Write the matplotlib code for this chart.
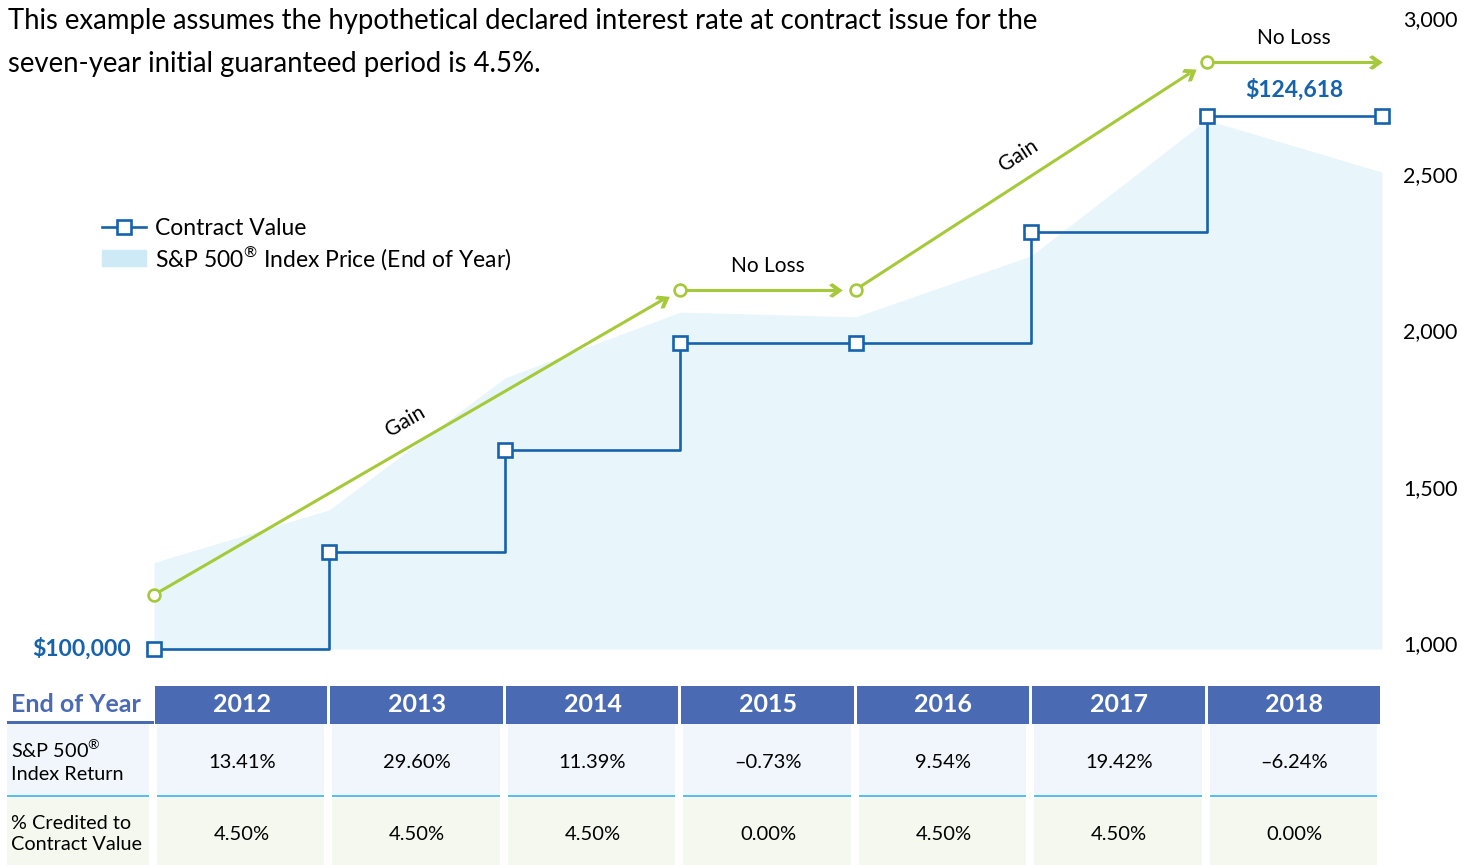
import numpy as np
import matplotlib
matplotlib.use('Agg')
import matplotlib.pyplot as plt
from matplotlib.lines import Line2D
from matplotlib.patches import Patch, Rectangle
from matplotlib.path import Path
from matplotlib.markers import MarkerStyle
from matplotlib.transforms import Affine2D

plt.rcParams['font.family'] = ['Lato', 'DejaVu Sans']
plt.rcParams['mathtext.fontset'] = 'custom'
plt.rcParams['mathtext.rm'] = 'Lato'

# data
years = ['2012', '2013', '2014', '2015', '2016', '2017', '2018']
sp500_price = [1257.60, 1426.19, 1848.36, 2058.90, 2043.94, 2238.83, 2673.61, 2506.85]
contract_value = [100000, 104500, 109203, 114117, 114117, 119252, 124618, 124618]
index_return = ['13.41%', '29.60%', '11.39%', '–0.73%', '9.54%', '19.42%', '–6.24%']
credited = ['4.50%', '4.50%', '4.50%', '0.00%', '4.50%', '4.50%', '0.00%']
# illustrative gain / no-loss arrow path (contract value scale)
path_x = [0, 3, 4, 6, 7]
path_y = [102500, 116600, 116600, 127100, 127100]
path_labels = ['Gain', 'No Loss', 'Gain', 'No Loss']

BLUE = '#1662ad'
GREEN = '#a6c93a'
AREA = '#e8f5fb'
HEAD = '#4a6bb4'

W, H = 1476, 865
fig = plt.figure(figsize=(W / 100, H / 100), dpi=100)

# main chart axes (S&P scale on the right)
ax = fig.add_axes([154 / W, (H - 649) / H, 1228 / W, 631 / H])
ax2 = ax.twinx()
ax.set_xlim(0, 7)
ax.set_ylim(981, 3000)
ax.patch.set_alpha(0)
for s in ax.spines.values():
    s.set_visible(False)
x = np.arange(len(sp500_price))
ax.fill_between(x, sp500_price, 981, color=AREA, lw=0, zorder=1)
ax.set_yticks([1000, 1500, 2000, 2500, 3000])
ax.set_yticklabels(['{:,}'.format(v) for v in [1000, 1500, 2000, 2500, 3000]], fontsize=15.5)
ax.yaxis.tick_right()
ax.tick_params(axis='y', length=0, pad=15, labelleft=False, labelright=True)
ax.set_xticks([])

# contract value axis
ax2.set_ylim(100000, 129146)
ax2.axis('off')
ax2.plot(x, contract_value, drawstyle='steps-post', color=BLUE, lw=1.9, zorder=3,
         marker='s', ms=10, mfc='white', mec=BLUE, mew=1.9, clip_on=False)
ax2.annotate('$100,000', xy=(0, contract_value[0]), xytext=(-23, 0), textcoords='offset pixels',
             ha='right', va='center', color=BLUE, fontsize=16.5, weight='bold')
ax2.annotate('$124,618', xy=(6.5, contract_value[-1]), xytext=(0, 26), textcoords='offset pixels',
             ha='center', va='center', color=BLUE, fontsize=16.5, weight='bold')

# green gain path with chevrons
chev = Path([(1, 0), (-0.4, 1), (-0.9, 0.75), (0.0, 0), (-0.9, -0.75), (-0.4, -1), (1, 0)],
            [Path.MOVETO] + [Path.LINETO] * 5 + [Path.CLOSEPOLY])
pts = ax2.transData.transform(np.c_[path_x, path_y])
inv = ax2.transData.inverted()
ms_ch = 10.5
half = ms_ch / 72 * 100 / 2
for i in range(len(pts) - 1):
    p0, p1 = pts[i], pts[i + 1]
    d = (p1 - p0) / np.linalg.norm(p1 - p0)
    gap = 0 if i == len(pts) - 2 else 13
    tip = p1 - d * gap
    c = tip - d * half
    seg = inv.transform([p0, c])
    ax2.plot(seg[:, 0], seg[:, 1], color=GREEN, lw=2.2, zorder=4, clip_on=False,
             solid_capstyle='butt')
    ang = np.degrees(np.arctan2(d[1], d[0]))
    cd = inv.transform([c])[0]
    ax2.plot(cd[0], cd[1], marker=MarkerStyle(chev, transform=Affine2D().rotate_deg(ang)),
             ms=ms_ch, color=GREEN, mew=0, zorder=5, clip_on=False)
    mid = inv.transform([(p0 + p1) / 2])[0]
    off = np.array([-d[1], d[0]]) * 24
    ax2.annotate(path_labels[i], xy=mid, xytext=off, textcoords='offset pixels',
                 ha='center', va='center', fontsize=15, rotation=ang if abs(ang) > 1 else 0)
ax2.plot(path_x[:-1], path_y[:-1], 'o', ms=8.5, mfc='white', mec=GREEN, mew=1.9,
         zorder=6, clip_on=False)

# legend
handles = [Line2D([], [], color=BLUE, lw=1.9, marker='s', ms=10, mfc='white', mec=BLUE, mew=1.9),
           Patch(color='#cdeaf6')]
fig.legend(handles, ['Contract Value', 'S&P 500$^{®}$ Index Price (End of Year)'],
           loc='upper left', bbox_to_anchor=(102 / W, 1 - 218 / H), frameon=False,
           fontsize=16.5, borderpad=0, borderaxespad=0, handlelength=1.9,
           handletextpad=0.4, labelspacing=0.22)

# overlay in pixel coordinates for title and table
ov = fig.add_axes([0, 0, 1, 1])
ov.set_xlim(0, W)
ov.set_ylim(H, 0)
ov.axis('off')
ov.patch.set_alpha(0)
ov.text(8, 21, 'This example assumes the hypothetical declared interest rate at contract issue for the',
        fontsize=19.8, va='center')
ov.text(8, 64, 'seven-year initial guaranteed period is 4.5%.', fontsize=19.8, va='center')

xs = ax.transData.transform(np.c_[np.arange(8), np.zeros(8)])[:, 0]
ov.add_patch(Rectangle((7, 721), xs[0] - 7, 3, color=HEAD, lw=0))
ov.text(11, 704, 'End of Year', color=HEAD, weight='bold', fontsize=18, va='center')
ov.add_patch(Rectangle((7, 724), 142, 72, color='#f0f6fc', lw=0))
ov.add_patch(Rectangle((7, 798), 142, 67, color='#f5f8ee', lw=0))
ov.add_patch(Rectangle((7, 795), 142, 2, color='#55c1e9', lw=0))
ov.text(11, 761, 'S&P 500$^{®}$\nIndex Return', fontsize=14.3, va='center', linespacing=1.3)
ov.text(11, 834, '% Credited to\nContract Value', fontsize=14.3, va='center', linespacing=1.3)
for j in range(7):
    l, r = xs[j], xs[j + 1]
    ov.add_patch(Rectangle((l + 1, 686), r - l - 3, 38, color=HEAD, lw=0))
    ov.text((l + r) / 2, 704, years[j], color='white', weight='bold', fontsize=18,
            ha='center', va='center')
    ov.add_patch(Rectangle((l + 3, 724), r - l - 8, 72, color='#f0f6fc', lw=0))
    ov.add_patch(Rectangle((l + 3, 798), r - l - 8, 67, color='#f5f8ee', lw=0))
    ov.add_patch(Rectangle((l + 3, 795), r - l - 8, 2, color='#55c1e9', lw=0))
    ov.text((l + r) / 2, 762, index_return[j], fontsize=14.5, ha='center', va='center')
    ov.text((l + r) / 2, 835, credited[j], fontsize=14.5, ha='center', va='center')

fig.savefig('out.png', dpi=100)
